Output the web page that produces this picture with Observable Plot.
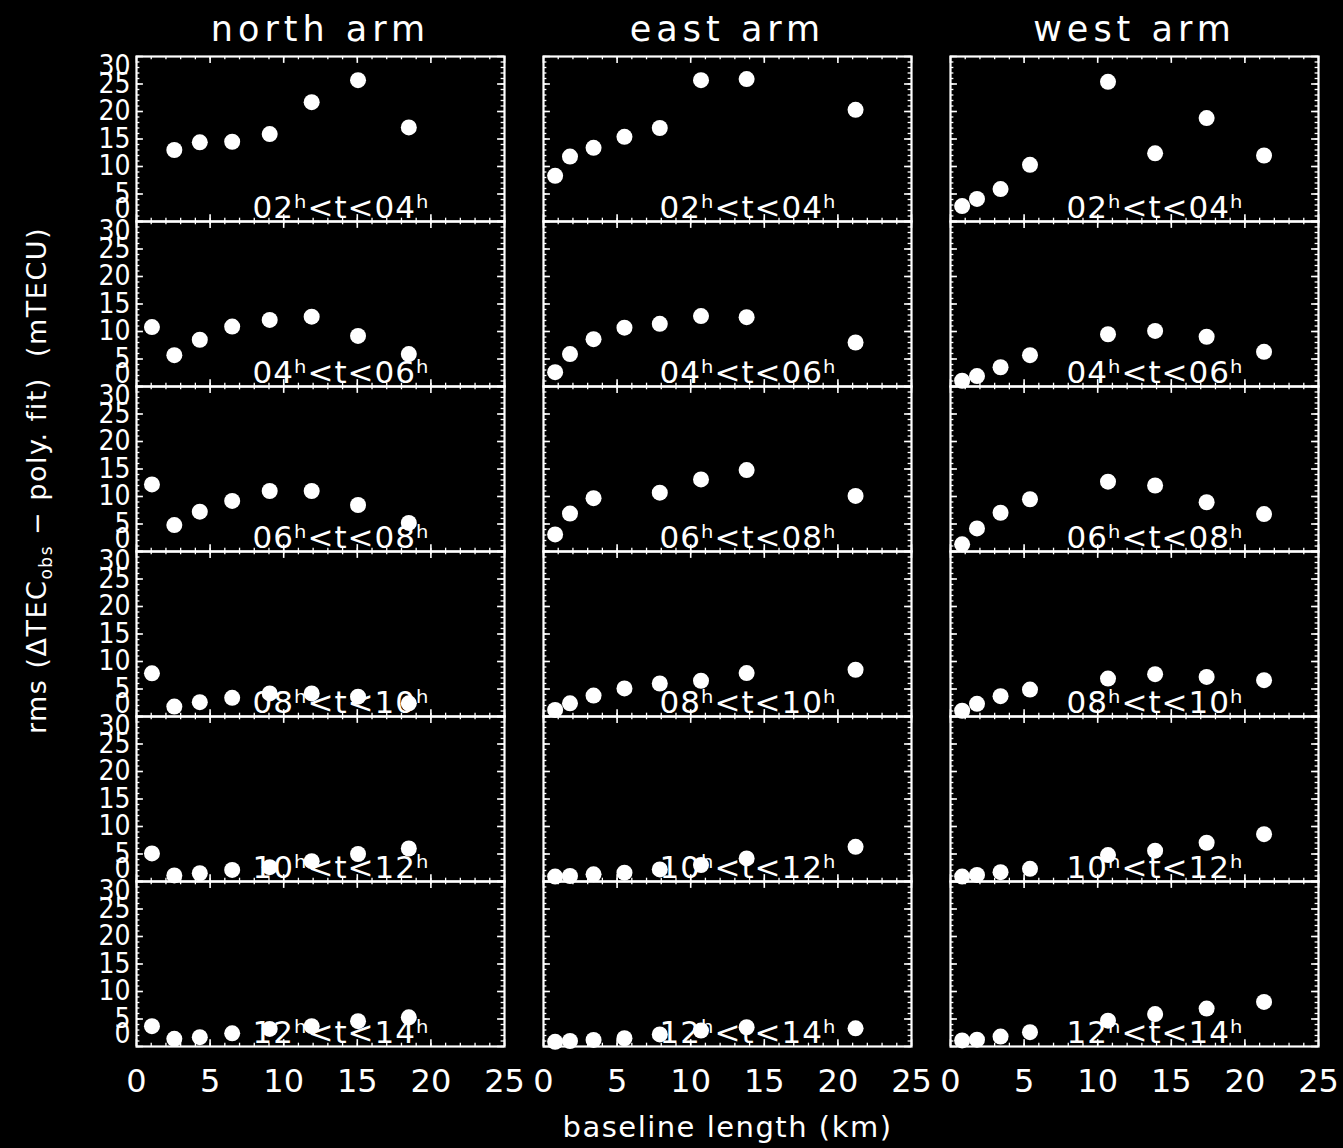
<!DOCTYPE html>
<html><head><meta charset="utf-8">
<script src="https://cdn.jsdelivr.net/npm/d3@7"></script>
<script src="https://cdn.jsdelivr.net/npm/@observablehq/plot@0.6"></script>
<style>
html,body{margin:0;padding:0;background:#000;}
#chart svg{display:block;}
</style></head><body><div id="chart"></div>
<script>
const arms = ["north arm", "east arm", "west arm"];
const timeRanges = ["02ʰ<t<04ʰ", "04ʰ<t<06ʰ", "06ʰ<t<08ʰ", "08ʰ<t<10ʰ", "10ʰ<t<12ʰ", "12ʰ<t<14ʰ"];

const northBaselines = [1.05, 2.57, 4.3, 6.5, 9.05, 11.9, 15.05, 18.5];
const eastBaselines  = [0.79, 1.8, 3.4, 5.5, 7.9, 10.7, 13.8, 21.2];
const westBaselines  = [0.79, 1.8, 3.4, 5.4, 10.7, 13.9, 17.4, 21.3];

const northRms = [
  [null, 13.0, 14.4, 14.5, 15.9, 21.7, 25.7, 17.1],
  [10.8, 5.7, 8.5, 10.9, 12.1, 12.7, 9.2, 5.9],
  [12.2, 4.8, 7.25, 9.2, 11.0, 11.0, 8.45, 5.2],
  [7.85, 1.8, 2.6, 3.4, 4.2, 4.2, 3.6, 2.4],
  [5.1, 1.1, 1.5, 2.1, 2.6, 3.7, 5.0, 6.0],
  [3.7, 1.4, 1.7, 2.4, 3.2, 3.7, 4.6, 5.3]
];
const eastRms = [
  [8.3, 11.8, 13.4, 15.4, 17.0, 25.7, 25.9, 20.3],
  [2.6, 5.9, 8.6, 10.7, 11.4, 12.8, 12.6, 8.0],
  [3.1, 6.9, 9.7, null, 10.7, 13.1, 14.8, 10.1],
  [1.2, 2.4, 3.8, 5.1, 6.0, 6.5, 7.9, 8.5],
  [0.9, 1.0, 1.3, 1.6, 2.2, 3.0, 4.2, 6.3],
  [0.85, 1.0, 1.2, 1.5, 2.2, 2.9, 3.5, 3.3]
];
const westRms = [
  [2.8, 4.1, 5.9, 10.3, 25.4, 12.4, 18.8, 12.0],
  [1.05, 1.9, 3.5, 5.7, 9.5, 10.1, 9.05, 6.3],
  [1.3, 4.2, 7.05, 9.5, 12.7, 12.0, 8.95, 6.8],
  [1.05, 2.3, 3.7, 4.9, 6.9, 7.7, 7.2, 6.6],
  [0.9, 1.2, 1.7, 2.3, 4.8, 5.6, 7.05, 8.6],
  [1.1, 1.25, 1.8, 2.6, 4.7, 5.9, 6.9, 8.1]
];

const xTicks = [0, 5, 10, 15, 20, 25];
const yTicks = [0, 5, 10, 15, 20, 25, 30];
const yInnerTicks = [5, 10, 15, 20, 25];
const xMinorTicks = d3.range(0, 26, 1);
const yMinorTicks = d3.range(0, 31, 1);

const yTitle = "rms (ΔTECobs − poly. fit)  (mTECU)";
const xTitle = "baseline length (km)";

// build table
const armSeries = [[northBaselines, northRms], [eastBaselines, eastRms], [westBaselines, westRms]];
const points = [];
arms.forEach((arm, i) => {
  const [bx, rms] = armSeries[i];
  rms.forEach((row, j) => row.forEach((v, k) => {
    if (v != null) points.push({arm, time: timeRanges[j], baseline: bx[k], rms: v});
  }));
});
const panels = [];
arms.forEach(arm => timeRanges.forEach(time => panels.push({arm, time})));
const armTitles = arms.map(arm => ({arm, time: timeRanges[0]}));

const xDom = [0, 25], yDom = [0, 30];
const tkY = 1.25, tkYm = 0.6;   // tick lengths along y (in rms units)
const tkX = 0.47, tkXm = 0.23;  // tick lengths along x (in km units)
const W = "#fff";
const narrow = "Liberation Sans Narrow, DejaVu Sans Condensed, Arial Narrow, sans-serif";

const plot = Plot.plot({
  width: 1343, height: 1148,
  marginLeft: 136, marginRight: 25, marginTop: 56, marginBottom: 102,
  style: {background: "#000", color: "#fff", fontFamily: "DejaVu Sans, sans-serif"},
  x: {domain: xDom},
  y: {domain: yDom},
  fx: {domain: arms, paddingInner: 0.096, paddingOuter: 0, axis: null},
  fy: {domain: timeRanges, padding: 0, axis: null},
  marks: [
    // minor ticks
    Plot.ruleX(xMinorTicks, {x: d => d, y1: yDom[0], y2: yDom[0] + tkYm, stroke: W, strokeWidth: 1.3}),
    Plot.ruleX(xMinorTicks, {x: d => d, y1: yDom[1] - tkYm, y2: yDom[1], stroke: W, strokeWidth: 1.3}),
    Plot.ruleY(yMinorTicks, {y: d => d, x1: xDom[0], x2: xDom[0] + tkXm, stroke: W, strokeWidth: 1.3}),
    Plot.ruleY(yMinorTicks, {y: d => d, x1: xDom[1] - tkXm, x2: xDom[1], stroke: W, strokeWidth: 1.3}),
    // major ticks
    Plot.ruleX(xTicks, {x: d => d, y1: yDom[0], y2: yDom[0] + tkY, stroke: W, strokeWidth: 1.6}),
    Plot.ruleX(xTicks, {x: d => d, y1: yDom[1] - tkY, y2: yDom[1], stroke: W, strokeWidth: 1.6}),
    Plot.ruleY(yTicks, {y: d => d, x1: xDom[0], x2: xDom[0] + tkX, stroke: W, strokeWidth: 1.6}),
    Plot.ruleY(yTicks, {y: d => d, x1: xDom[1] - tkX, x2: xDom[1], stroke: W, strokeWidth: 1.6}),
    Plot.frame({stroke: W, strokeWidth: 2.2}),
    Plot.dot(points, {x: "baseline", y: "rms", fx: "arm", fy: "time", r: 8, fill: W, stroke: "none"}),
    Plot.text(panels, {fx: "arm", fy: "time", text: "time", frameAnchor: "bottom-left", lineAnchor: "bottom",
      dx: 116, dy: -4, fontSize: 31, fill: W}),
    Plot.text(armTitles, {fx: "arm", fy: "time", text: "arm", frameAnchor: "top", lineAnchor: "bottom",
      dy: -16, fontSize: 35, fill: W}),
    Plot.axisY({ticks: yInnerTicks, tickSize: 0, tickPadding: 6, fontSize: 28, fontFamily: narrow, label: null}),
    Plot.axisY({ticks: [30], tickSize: 0, tickPadding: 6, fontSize: 28, fontFamily: narrow, label: null, dy: 10}),
    Plot.axisY({ticks: [0], tickSize: 0, tickPadding: 6, fontSize: 28, fontFamily: narrow, label: null, dy: -12}),
    Plot.axisX({ticks: xTicks, tickSize: 0, tickPadding: 23, fontSize: 32, label: null}),
    Plot.text([yTitle], {facet: "super", text: d => d, frameAnchor: "left", textAnchor: "middle", rotate: -90,
      dx: -99, dy: -71, fontSize: 27, fill: W}),
    Plot.text([xTitle], {facet: "super", text: d => d, frameAnchor: "bottom", lineAnchor: "bottom", dy: 90, fontSize: 29, fill: W})
  ]
});

document.getElementById("chart").appendChild(plot);

// typographic touches
d3.select(plot).selectAll("text").each(function() {
  const t = this.textContent;
  if (arms.includes(t)) this.style.letterSpacing = "5px";
  else if (timeRanges.includes(t)) this.style.letterSpacing = "1px";
  else if (t === xTitle) this.style.letterSpacing = "1.5px";
  else if (t === yTitle) {
    const el = d3.select(this);
    el.text(null).style("white-space", "pre").style("letter-spacing", "1.5px");
    el.append("tspan").text("rms (ΔTEC");
    el.append("tspan").text("obs").attr("font-size", 17).attr("dy", 6);
    el.append("tspan").text(" − poly. fit)  (mTECU)").attr("dy", -6);
  }
});
</script>
</body></html>
